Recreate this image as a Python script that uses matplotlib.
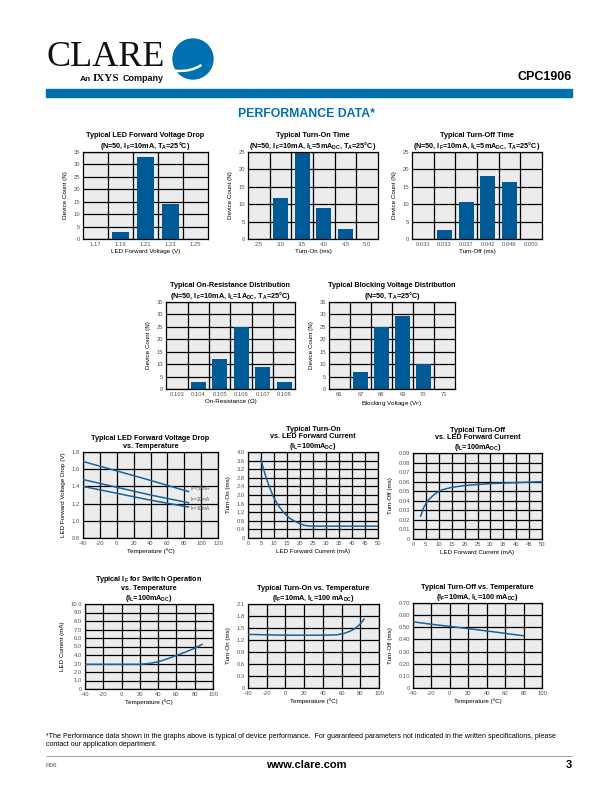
import numpy as np
import matplotlib
import matplotlib.pyplot as plt
import matplotlib.patches as mpatches

plt.rcParams['font.family'] = ['Liberation Sans', 'DejaVu Sans']
plt.rcParams['mathtext.default'] = 'regular'

# ---------------------------------------------------------------------------
# Data
# ---------------------------------------------------------------------------
vf_cats = ["1.17", "1.19", "1.21", "1.23", "1.25"]
vf_counts = [0, 3, 33, 14, 0]

ton_cats = ["2.5", "3.0", "3.5", "4.0", "4.5", "5.0"]
ton_counts = [0, 11.7, 26, 9, 3, 0]

toff_cats = ["0.033", "0.033", "0.037", "0.042", "0.046", "0.050"]
toff_counts = [0, 2.7, 10.6, 18, 16.3, 0]

ron_cats = ["0.103", "0.104", "0.105", "0.106", "0.107", "0.108"]
ron_counts = [0, 3, 12, 25, 8.7, 3]

vb_cats = ["66", "67", "68", "69", "70", "71"]
vb_counts = [0, 7, 25, 29.3, 10, 0]

vf_temp = [-40, 0, 40, 85]
vf_50ma = [1.69, 1.58, 1.47, 1.34]
vf_20ma = [1.48, 1.39, 1.30, 1.21]
vf_10ma = [1.40, 1.32, 1.24, 1.16]
vf_labels = ["I$_F$=50mA", "I$_F$=20mA", "I$_F$=10mA"]

ton_if = [5, 6, 7, 8, 10, 12, 14, 16, 18, 20, 22, 24, 30, 40, 50]
ton_ms = [3.65, 3.2, 2.8, 2.45, 1.85, 1.45, 1.15, 0.92, 0.78, 0.66, 0.58, 0.55, 0.55, 0.55, 0.55]

toff_if = [3, 4, 5, 6, 8, 10, 12, 15, 20, 25, 30, 40, 50]
toff_ms = [0.024, 0.032, 0.037, 0.041, 0.046, 0.050, 0.052, 0.054, 0.056, 0.057, 0.058, 0.059, 0.060]

if_temp = [-40, -20, 0, 20, 30, 40, 50, 60, 70, 80, 88]
if_ma = [2.9, 2.9, 2.9, 2.9, 3.0, 3.2, 3.55, 3.95, 4.35, 4.8, 5.25]

tont_temp = [-40, -20, 0, 20, 40, 55, 62, 68, 74, 80, 84]
tont_ms = [1.34, 1.33, 1.32, 1.32, 1.32, 1.33, 1.36, 1.41, 1.48, 1.60, 1.72]

tofft_temp = [-40, -20, 0, 20, 40, 60, 80]
tofft_ms = [0.545, 0.525, 0.507, 0.489, 0.470, 0.450, 0.430]

# ---------------------------------------------------------------------------
# Style
# ---------------------------------------------------------------------------
BLUE = "#0070b0"
BAR = "#005a95"
LINE = "#1565a0"
PANEL = "#ececec"
TICK = "#555555"
TITLE_FS = 5.2
LABEL_FS = 4.5
W, H = 612, 792

fig = plt.figure(figsize=(W / 100, H / 100), dpi=100)


def px_axes(left, top, right, bottom):
    """Axes placed by pixel box (origin top-left)."""
    return fig.add_axes([left / W, 1 - bottom / H, (right - left) / W, (bottom - top) / H])


def style_axes(ax):
    ax.set_facecolor(PANEL)
    ax.set_axisbelow(True)
    for s in ax.spines.values():
        s.set_linewidth(0.9)
        s.set_color("black")
    ax.tick_params(length=0, labelsize=4.2, labelcolor=TICK, pad=2)


def hist_panel(box, cats, counts, ymax, xlabel, title):
    ax = px_axes(*box)
    style_axes(ax)
    x = np.arange(len(cats))
    ax.bar(x, counts, width=0.7, color=BAR, zorder=2)
    ax.set_xlim(-0.5, len(cats) - 0.5)
    ax.set_ylim(0, ymax)
    ax.set_xticks(x, cats)
    ax.set_xticks(x[:-1] + 0.5, minor=True)
    ax.set_yticks(np.arange(0, ymax + 1, 5))
    ax.tick_params(which="minor", length=0)
    ax.grid(True, which="minor", axis="x", color="black", lw=0.9)
    ax.grid(True, which="major", axis="y", color="black", lw=0.9)
    ax.set_xlabel(xlabel, fontsize=LABEL_FS, labelpad=1.5)
    ax.set_ylabel("Device Count (N)", fontsize=LABEL_FS, labelpad=4)
    ax.set_title(title, fontsize=TITLE_FS, fontweight="bold", pad=3, linespacing=1.1)
    return ax


def line_panel(box, x, y, xlim, xstep, ylim, ystep, xlabel, ylabel, title, yfmt="{:.1f}"):
    ax = px_axes(*box)
    style_axes(ax)
    ax.plot(x, y, color=LINE, lw=1.1, zorder=3)
    ax.set_xlim(*xlim)
    ax.set_ylim(*ylim)
    xt = np.arange(xlim[0], xlim[1] + xstep / 2, xstep)
    yt = np.arange(ylim[0], ylim[1] + ystep / 2, ystep)
    ax.set_xticks(xt, [f"{v:g}" for v in xt])
    ax.set_yticks(yt, ["0" if abs(v) < 1e-9 else yfmt.format(v) for v in yt])
    ax.grid(True, color="black", lw=0.9)
    ax.set_xlabel(xlabel, fontsize=LABEL_FS, labelpad=2)
    ax.set_ylabel(ylabel, fontsize=LABEL_FS, labelpad=4)
    ax.set_title(title, fontsize=TITLE_FS, fontweight="bold", pad=3, linespacing=1.1)
    return ax


# ---------------------------------------------------------------------------
# Header
# ---------------------------------------------------------------------------
fig.text(47 / W, 1 - 66 / H, "CLARE", family="Liberation Serif", fontsize=26, color="#111111")
fig.patches.append(mpatches.Ellipse((193 / W, 1 - 59 / H), 40 / W, 40 / H,
                                    color=BLUE, transform=fig.transFigure, figure=fig))
fig.patches.append(mpatches.Arc((180 / W, 1 - 52 / H), 58 / W, 38 / H, theta1=250, theta2=335,
                                color="white", lw=1.8, transform=fig.transFigure, figure=fig))
fig.text(80 / W, 1 - 81 / H, "An", fontsize=6, fontweight="bold", color="#111111")
fig.text(93 / W, 1 - 81 / H, "IXYS", family="Liberation Serif", fontsize=8,
         fontweight="bold", color="#111111")
fig.text(123 / W, 1 - 81 / H, "Company", fontsize=6.5, fontweight="bold", color="#111111")
fig.text(572 / W, 1 - 80 / H, "CPC1906", fontsize=9, fontweight="bold", ha="right")
fig.patches.append(mpatches.Rectangle((46 / W, 1 - 97 / H), 526 / W, 8 / H, color=BLUE,
                                      transform=fig.transFigure, figure=fig))
fig.text(306 / W, 1 - 117 / H, "PERFORMANCE DATA*", fontsize=8.8, fontweight="bold",
         color=BLUE, ha="center")

# ---------------------------------------------------------------------------
# Row 1 / Row 2: distributions
# ---------------------------------------------------------------------------
hist_panel((83, 152, 208, 239), vf_cats, vf_counts, 35, "LED Forward Voltage (V)",
           "Typical LED Forward Voltage Drop\n(N=50, I$_F$=10mA, T$_A$=25°C)")
hist_panel((248, 152, 378, 239), ton_cats, ton_counts, 25, "Turn-On (ms)",
           "Typical Turn-On Time\n(N=50, I$_F$=10mA, I$_L$=5mA$_{DC}$, T$_A$=25°C)")
hist_panel((412, 152, 542, 239), toff_cats, toff_counts, 25, "Turn-Off (ms)",
           "Typical Turn-Off Time\n(N=50, I$_F$=10mA, I$_L$=5mA$_{DC}$, T$_A$=25°C)")
hist_panel((166, 302, 295, 389), ron_cats, ron_counts, 35, "On-Resistance (Ω)",
           "Typical On-Resistance Distribution\n(N=50, I$_F$=10mA, I$_L$=1A$_{DC}$, T$_A$=25°C)")
hist_panel((329, 302, 455, 389), vb_cats, vb_counts, 35, "Blocking Voltage (V$_P$)",
           "Typical Blocking Voltage Distribution\n(N=50, T$_A$=25°C)")

# ---------------------------------------------------------------------------
# Row 3
# ---------------------------------------------------------------------------
ax = line_panel((83, 452, 218, 538), vf_temp, vf_50ma, (-40, 120), 20, (0.8, 1.8), 0.2,
                "Temperature (ºC)", "LED Forward Voltage Drop (V)",
                "Typical LED Forward Voltage Drop\nvs. Temperature")
ax.plot(vf_temp, vf_20ma, color=LINE, lw=1.1, zorder=3)
ax.plot(vf_temp, vf_10ma, color=LINE, lw=1.1, zorder=3)
for series, lab, dy in ((vf_50ma, vf_labels[0], 0.04), (vf_20ma, vf_labels[1], 0.035),
                        (vf_10ma, vf_labels[2], -0.015)):
    ax.text(vf_temp[-1] + 1.5, series[-1] + dy, lab, fontsize=3.4, color=TICK, va="center")

line_panel((248, 452, 378, 538), ton_if, ton_ms, (0, 50), 5, (0, 4.0), 0.4,
           "LED Forward Current (mA)", "Turn-On (ms)",
           "Typical Turn-On\nvs. LED Forward Current\n(I$_L$=100mA$_{DC}$)")
line_panel((413, 453, 542, 539), toff_if, toff_ms, (0, 50), 5, (0, 0.09), 0.01,
           "LED Forward Current (mA)", "Turn-Off (ms)",
           "Typical Turn-Off\nvs. LED Forward Current\n(I$_L$=100mA$_{DC}$)", yfmt="{:.2f}")

# ---------------------------------------------------------------------------
# Row 4
# ---------------------------------------------------------------------------
line_panel((85, 604, 213, 689), if_temp, if_ma, (-40, 100), 20, (0, 10), 1.0,
           "Temperature (ºC)", "LED Current (mA)",
           "Typical I$_F$ for Switch Operation\nvs. Temperature\n(I$_L$=100mA$_{DC}$)")
line_panel((248, 604, 379, 688), tont_temp, tont_ms, (-40, 100), 20, (0, 2.1), 0.3,
           "Temperature (ºC)", "Turn-On (ms)",
           "Typical Turn-On vs. Temperature\n(I$_F$=10mA, I$_L$=100 mA$_{DC}$)")
line_panel((413, 603, 542, 688), tofft_temp, tofft_ms, (-40, 100), 20, (0, 0.70), 0.10,
           "Temperature (ºC)", "Turn-Off (ms)",
           "Typical Turn-Off vs. Temperature\n(I$_F$=10mA, I$_L$=100 mA$_{DC}$)", yfmt="{:.2f}")

# ---------------------------------------------------------------------------
# Footer
# ---------------------------------------------------------------------------
fig.text(46 / W, 1 - 733 / H,
         "*The Performance data shown in the graphs above is typical of device performance.  "
         "For guaranteed parameters not indicated in the written specifications, please\n"
         "contact our application department.",
         fontsize=5.1, va="top", linespacing=1.3)
fig.add_artist(plt.Line2D([46 / W, 572 / W], [1 - 756 / H, 1 - 756 / H],
                          color="#999999", lw=0.6, transform=fig.transFigure))
fig.text(46 / W, 1 - 767 / H, "R06", fontsize=4.5, color=TICK)
fig.text(306 / W, 1 - 768 / H, "www.clare.com", fontsize=8, fontweight="bold", ha="center")
fig.text(572 / W, 1 - 768 / H, "3", fontsize=8, fontweight="bold", ha="right")

fig.savefig("out.png", dpi=100)
